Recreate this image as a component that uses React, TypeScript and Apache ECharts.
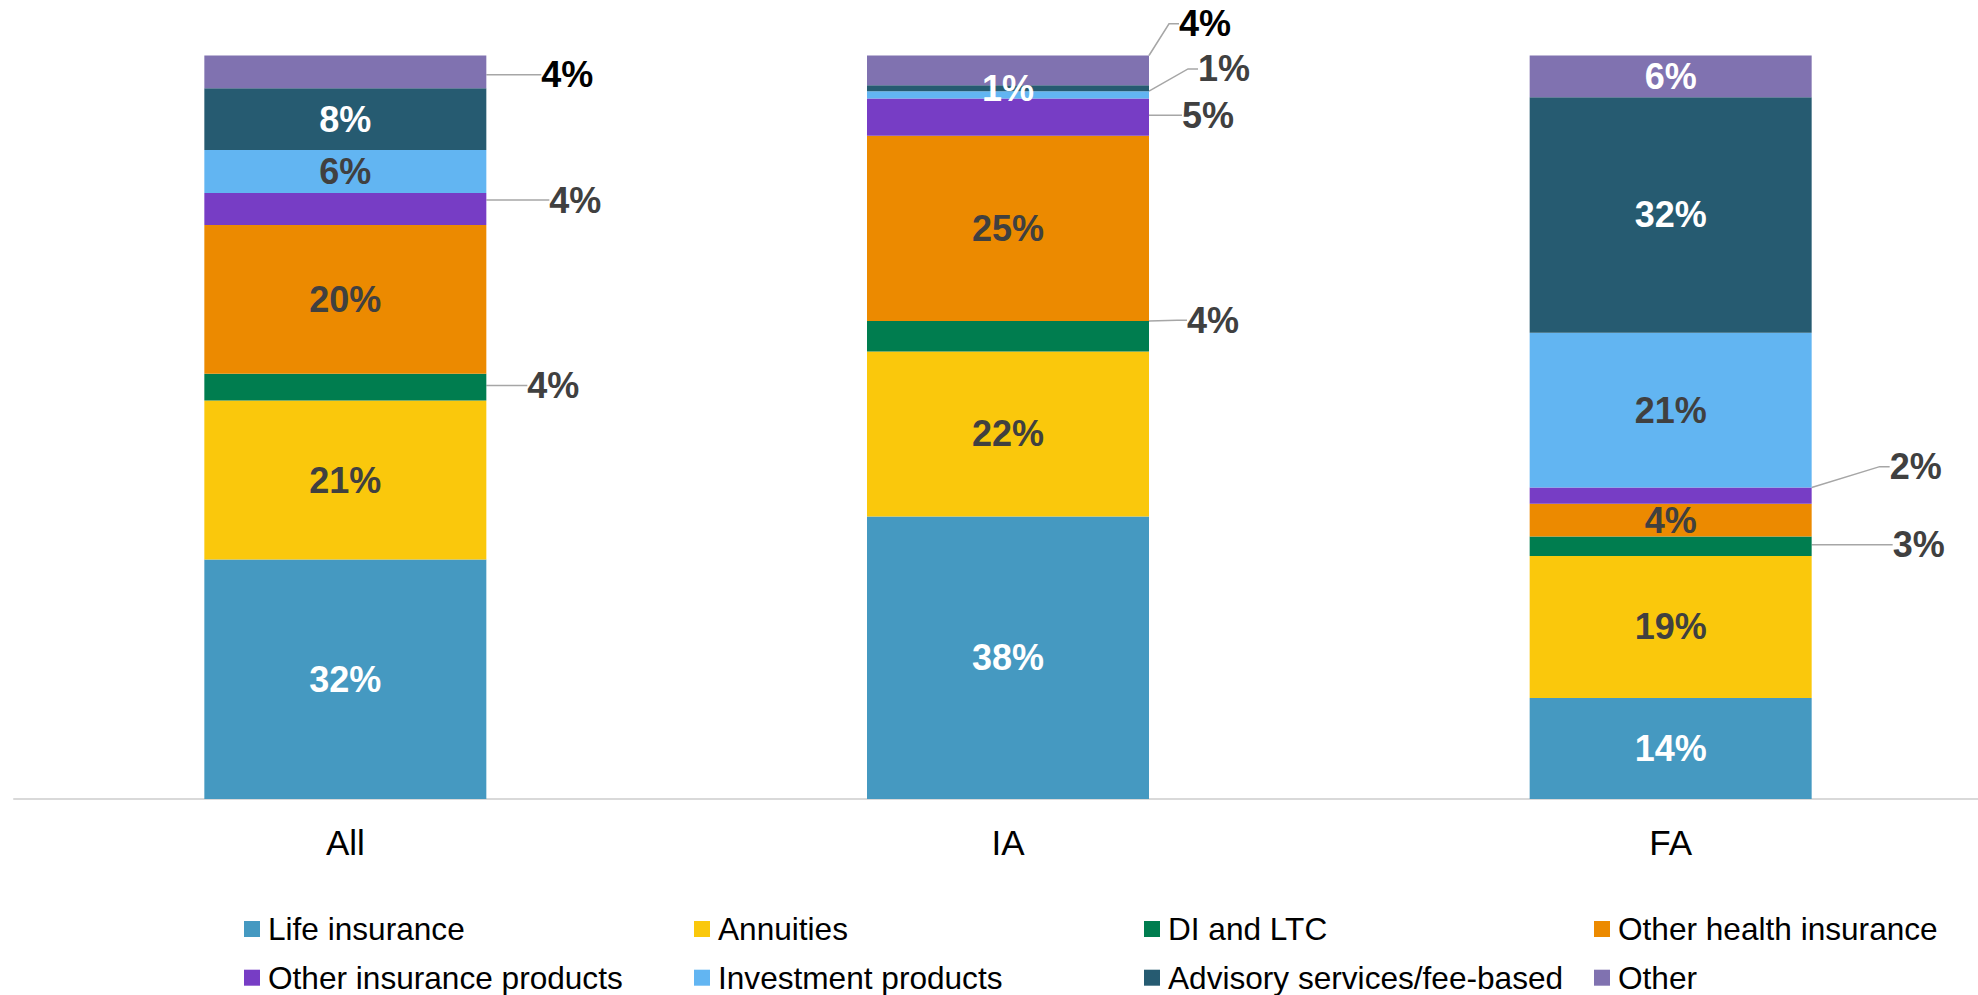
import React, { useEffect, useRef } from 'react';
import * as echarts from 'echarts';

const categories = ['All', 'IA', 'FA'];
const seriesNames = [
  'Life insurance',
  'Annuities',
  'DI and LTC',
  'Other health insurance',
  'Other insurance products',
  'Investment products',
  'Advisory services/fee-based',
  'Other',
];
const lifeInsurance = [32.2, 38.0, 13.6];
const annuities = [21.4, 22.2, 19.1];
const diAndLtc = [3.6, 4.1, 2.6];
const otherHealthInsurance = [20.0, 24.9, 4.4];
const otherInsuranceProducts = [4.3, 5.0, 2.2];
const investmentProducts = [5.8, 1.0, 20.8];
const advisoryServices = [8.3, 0.8, 31.7];
const otherProducts = [4.4, 4.0, 5.6];

const seriesValues = [
  lifeInsurance,
  annuities,
  diAndLtc,
  otherHealthInsurance,
  otherInsuranceProducts,
  investmentProducts,
  advisoryServices,
  otherProducts,
];

const colors = ['#4599C1', '#FAC80C', '#007D4F', '#EC8A00', '#773DC5', '#62B5F2', '#265B71', '#8072B0'];
const insideLabelColors = ['#FFFFFF', '#404040', '#404040', '#404040', '#404040', '#404040', '#FFFFFF', '#FFFFFF'];

// labels placed to the right of the bar with a leader line: key = seriesIndex-categoryIndex
const outsideLabels: Record<string, { dx: number; dy: number; color: string }> = {
  '2-0': { dx: 41, dy: -1.5, color: '#404040' },
  '4-0': { dx: 63, dy: -9, color: '#404040' },
  '7-0': { dx: 55, dy: 3, color: '#000000' },
  '2-1': { dx: 38, dy: -16, color: '#404040' },
  '4-1': { dx: 33, dy: -2, color: '#404040' },
  '5-1': { dx: 49, dy: -26, color: '#404040' },
  '7-1': { dx: 30, dy: -46.5, color: '#000000' },
  '2-2': { dx: 81, dy: -1.5, color: '#404040' },
  '4-2': { dx: 78, dy: -29, color: '#404040' },
};

const legendCols = [244, 694, 1144, 1594];
const legendRows = [913, 961.7];

const FONT = '"Liberation Sans", Arial, Helvetica, sans-serif';

export default function App() {
  const ref = useRef<HTMLDivElement>(null);

  useEffect(() => {
    if (!ref.current) return;
    const chart = echarts.init(ref.current, undefined, { renderer: 'svg' });

    const legends = seriesNames.map((name, i) => ({
      data: [name],
      left: legendCols[i % 4],
      top: legendRows[Math.floor(i / 4)],
      padding: 0,
      icon: 'rect',
      itemWidth: 16,
      itemHeight: 16,
      textStyle: {
        fontFamily: FONT,
        fontSize: 31.6,
        lineHeight: 32,
        color: '#000000',
        padding: [0, 0, 0, 3],
      },
    }));

    const option: any = {
      animation: false,
      backgroundColor: '#FFFFFF',
      color: colors,
      legend: legends,
      grid: { left: 14, top: 55.5, width: 1988, height: 743.5, containLabel: false },
      xAxis: {
        type: 'category',
        data: categories,
        axisTick: { show: false },
        axisLine: { lineStyle: { color: '#D9D9D9', width: 2 } },
        axisLabel: { fontFamily: FONT, fontSize: 35, color: '#000000', margin: 26 },
      },
      yAxis: { type: 'value', min: 0, max: 100, show: false, splitLine: { show: false } },
      series: seriesNames.map((name, si) => ({
        name,
        type: 'bar',
        stack: 'total',
        barWidth: 282,
        itemStyle: { color: colors[si] },
        label: {
          show: true,
          position: 'inside',
          fontFamily: FONT,
          fontSize: 36,
          fontWeight: 'bold',
          color: insideLabelColors[si],
          formatter: (p: any) => Math.round(p.value) + '%',
        },
        labelLayout: (p: any) => {
          const o = outsideLabels[`${si}-${p.dataIndex}`];
          if (!o) return {};
          return {
            x: p.rect.x + p.rect.width + o.dx,
            y: p.rect.y + p.rect.height / 2 + o.dy,
            align: 'left',
            verticalAlign: 'middle',
          };
        },
        data: seriesValues[si].map((v, ci) => {
          const o = outsideLabels[`${si}-${ci}`];
          if (!o) return v;
          return {
            value: v,
            label: { position: 'right', color: o.color },
            labelLine: { show: true, length2: 10, lineStyle: { color: '#A6A6A6', width: 1.5 } },
          };
        }),
      })),
    };

    chart.setOption(option);
    return () => chart.dispose();
  }, []);

  return (
    <div style={{ position: 'fixed', left: 0, top: 0, width: 1978, height: 995, overflow: 'hidden', background: '#FFFFFF' }}>
      <div ref={ref} style={{ position: 'absolute', left: 0, top: 0, width: 2010, height: 995 }} />
    </div>
  );
}
